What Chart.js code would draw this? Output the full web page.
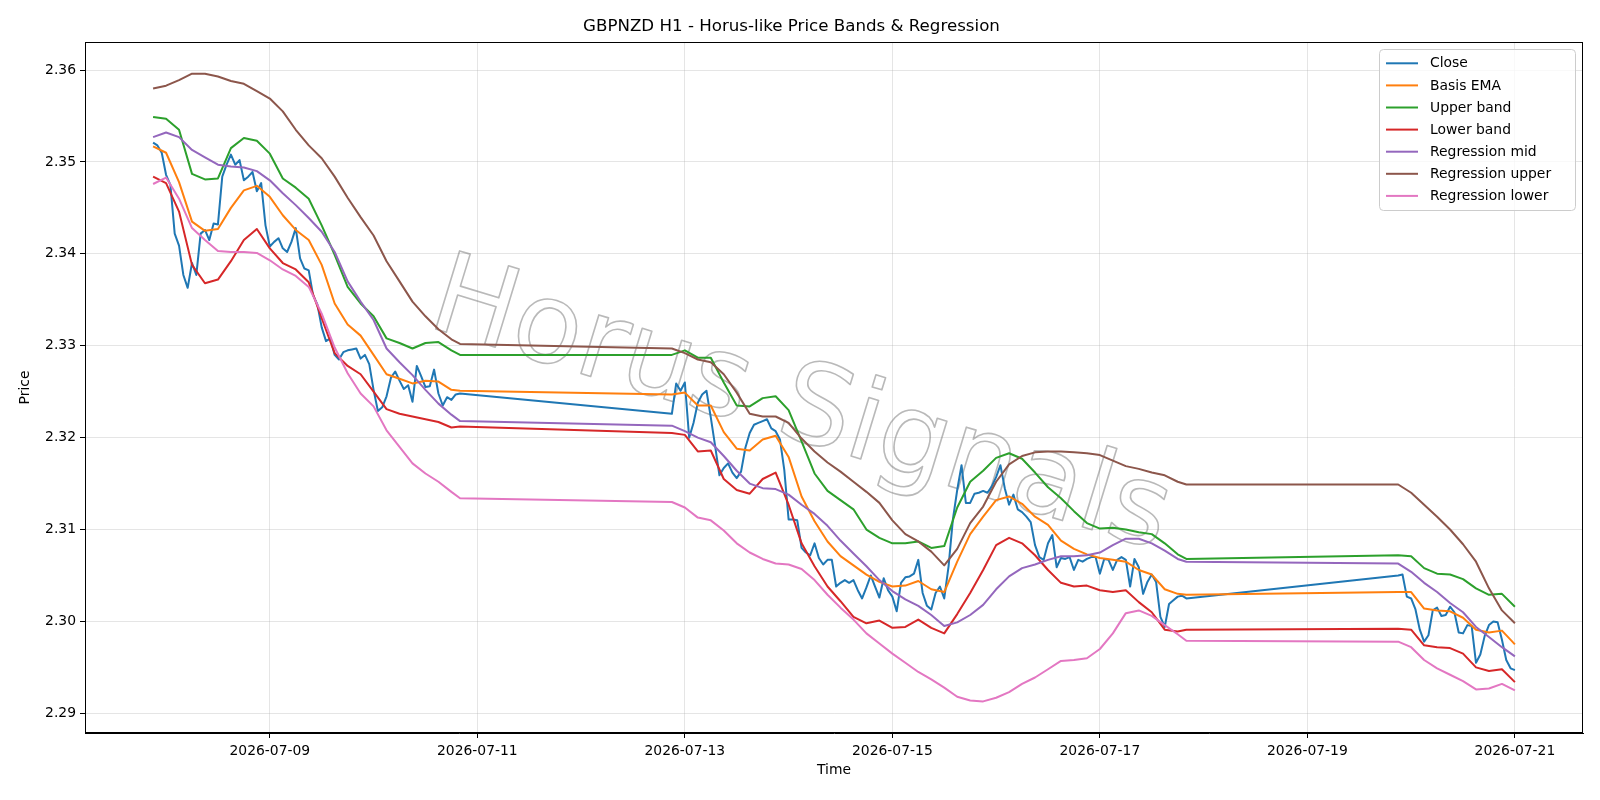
<!DOCTYPE html>
<html><head><meta charset="utf-8">
<script src="https://cdn.jsdelivr.net/npm/chart.js@4/dist/chart.umd.min.js"></script>
<style>html,body{margin:0;padding:0;background:#fff;}canvas{display:block;}</style>
</head><body>
<canvas id="c" width="1600" height="800"></canvas>
<script>
// ---- DATA (hours relative to 2026-07-09 00:00) ----
const seriesNames = ['Close','Basis EMA','Upper band','Lower band','Regression mid','Regression upper','Regression lower'];
const closeSegStartHours = [-27, 93, 261];
const closeSeg1 = [2.3521,2.3518,2.3510,2.3486,2.3475,2.3422,2.3409,2.3377,2.3363,2.3390,2.3377,2.3422,2.3426,2.3415,2.3433,2.3432,2.3484,2.3497,2.3508,2.3497,2.3502,2.3480,2.3484,2.3489,2.3468,2.3477,2.3431,2.3408,2.3413,2.3417,2.3406,2.3402,2.3413,2.3428,2.3395,2.3384,2.3382,2.3355,2.3345,2.3320,2.3305,2.3308,2.3290,2.3285,2.3293,2.3295,2.3296,2.3297,2.3286,2.3290,2.3280,2.3252,2.3229,2.3233,2.3245,2.3265,2.3272,2.3262,2.3253,2.3257,2.3239,2.3278,2.3267,2.3255,2.3256,2.3274,2.3248,2.3235,2.3244,2.3241,2.3247,2.3248];
const closeSeg2 = [2.3226,2.3259,2.3251,2.3260,2.3200,2.3216,2.3238,2.3247,2.3251,2.3222,2.3191,2.3159,2.3167,2.3172,2.3162,2.3156,2.3163,2.3189,2.3205,2.3214,2.3216,2.3218,2.3220,2.3210,2.3207,2.3198,2.3165,2.3111,2.3111,2.3110,2.3080,2.3075,2.3072,2.3085,2.3069,2.3062,2.3067,2.3067,2.3038,2.3042,2.3045,2.3042,2.3045,2.3034,2.3025,2.3037,2.3050,2.3038,2.3026,2.3047,2.3034,2.3027,2.3011,2.3042,2.3048,2.3049,2.3052,2.3067,2.3031,2.3017,2.3013,2.3031,2.3038,2.3025,2.3060,2.3111,2.3143,2.3170,2.3129,2.3129,2.3139,2.3140,2.3142,2.3140,2.3147,2.3157,2.3170,2.3145,2.3127,2.3138,2.3122,2.3119,2.3114,2.3108,2.3083,2.3070,2.3067,2.3085,2.3094,2.3059,2.3069,2.3068,2.3070,2.3056,2.3067,2.3065,2.3068,2.3070,2.3070,2.3052,2.3068,2.3067,2.3056,2.3067,2.3070,2.3067,2.3038,2.3068,2.3059,2.3030,2.3043,2.3051,2.3043,2.3005,2.2994,2.3019,2.3023,2.3027,2.3028,2.3025];
const closeSeg3 = [2.3050,2.3051,2.3027,2.3025,2.3013,2.2991,2.2978,2.2985,2.3012,2.3015,2.3006,2.3007,2.3016,2.3010,2.2988,2.2987,2.2996,2.2995,2.2955,2.2964,2.2984,2.2996,2.3000,2.2999,2.2980,2.2958,2.2949,2.2947];

const bandHours = [-27,-24,-21,-18,-15,-12,-9,-6,-3,0,3,6,9,12,15,18,21,24,27,30,33,36,39,42,44,
  93,96,99,102,105,108,111,114,117,120,123,126,129,132,135,138,141,144,147,150,153,156,159,162,165,168,171,174,177,180,183,186,189,192,195,198,201,204,207,210,212,
  261,264,267,270,273,276,279,282,285,288];
const basisEma = [2.3517,2.3510,2.3478,2.3435,2.3425,2.3427,2.3450,2.3469,2.3474,2.3462,2.3442,2.3426,2.3415,2.3388,2.3346,2.3323,2.3311,2.3290,2.3269,2.3264,2.3259,2.3262,2.3261,2.3252,2.3251,
  2.3247,2.3249,2.3235,2.3235,2.3206,2.3188,2.3186,2.3198,2.3202,2.3179,2.3136,2.3109,2.3087,2.3071,2.3061,2.3051,2.3043,2.3038,2.3039,2.3044,2.3035,2.3032,2.3065,2.3095,2.3114,2.3132,2.3136,2.3128,2.3114,2.3105,2.3088,2.3079,2.3073,2.3069,2.3067,2.3065,2.3056,2.3051,2.3035,2.3030,2.3029,
  2.3032,2.3032,2.3014,2.3012,2.3011,2.3004,2.2991,2.2988,2.2990,2.2975];
const upperBand = [2.3549,2.3547,2.3535,2.3487,2.3481,2.3482,2.3515,2.3526,2.3523,2.3509,2.3482,2.3472,2.3460,2.3431,2.3399,2.3364,2.3346,2.3332,2.3308,2.3303,2.3297,2.3303,2.3304,2.3295,2.3290,
  2.3290,2.3295,2.3287,2.3287,2.3260,2.3235,2.3234,2.3243,2.3245,2.3230,2.3196,2.3161,2.3142,2.3132,2.3122,2.3100,2.3091,2.3085,2.3085,2.3087,2.3080,2.3082,2.3124,2.3152,2.3164,2.3178,2.3183,2.3177,2.3162,2.3146,2.3134,2.3120,2.3107,2.3101,2.3102,2.3100,2.3097,2.3095,2.3085,2.3073,2.3068,
  2.3072,2.3071,2.3058,2.3052,2.3051,2.3046,2.3036,2.3029,2.3030,2.3016];
const lowerBand = [2.3484,2.3477,2.3446,2.3388,2.3368,2.3372,2.3392,2.3415,2.3427,2.3406,2.3390,2.3383,2.3369,2.3330,2.3292,2.3278,2.3269,2.3250,2.3231,2.3226,2.3223,2.3220,2.3217,2.3211,2.3212,
  2.3205,2.3203,2.3185,2.3186,2.3155,2.3143,2.3139,2.3155,2.3162,2.3127,2.3085,2.3060,2.3038,2.3022,2.3005,2.2998,2.3001,2.2993,2.2994,2.3002,2.2993,2.2987,2.3008,2.3031,2.3056,2.3083,2.3091,2.3085,2.3072,2.3056,2.3042,2.3038,2.3039,2.3034,2.3032,2.3034,2.3021,2.3010,2.2991,2.2989,2.2991,
  2.2992,2.2991,2.2974,2.2972,2.2971,2.2965,2.2950,2.2946,2.2948,2.2934];
const regressionMid = [2.3527,2.3532,2.3527,2.3513,2.3505,2.3497,2.3495,2.3494,2.3490,2.3480,2.3466,2.3453,2.3439,2.3424,2.3402,2.3370,2.3348,2.3328,2.3297,2.3282,2.3268,2.3252,2.3237,2.3225,2.3218,
  2.3213,2.3207,2.3200,2.3195,2.3180,2.3164,2.3150,2.3145,2.3144,2.3138,2.3127,2.3117,2.3104,2.3088,2.3074,2.3060,2.3045,2.3033,2.3024,2.3017,2.3007,2.2995,2.2999,2.3007,2.3018,2.3035,2.3049,2.3058,2.3062,2.3067,2.3071,2.3071,2.3072,2.3075,2.3083,2.3090,2.3090,2.3085,2.3077,2.3068,2.3065,
  2.3063,2.3054,2.3042,2.3032,2.3020,2.3010,2.2994,2.2983,2.2972,2.2962];
const regressionUpper = [2.3580,2.3583,2.3589,2.3596,2.3596,2.3593,2.3588,2.3585,2.3577,2.3569,2.3555,2.3535,2.3518,2.3504,2.3484,2.3461,2.3440,2.3420,2.3392,2.3370,2.3348,2.3332,2.3318,2.3307,2.3302,
  2.3297,2.3292,2.3285,2.3282,2.3269,2.3249,2.3226,2.3223,2.3223,2.3216,2.3199,2.3185,2.3173,2.3163,2.3152,2.3141,2.3129,2.3110,2.3095,2.3087,2.3076,2.3061,2.3079,2.3107,2.3125,2.3152,2.3171,2.3180,2.3184,2.3185,2.3185,2.3184,2.3183,2.3181,2.3175,2.3169,2.3166,2.3162,2.3159,2.3152,2.3149,
  2.3149,2.3140,2.3127,2.3114,2.3100,2.3084,2.3065,2.3036,2.3012,2.2998];
const regressionLower = [2.3476,2.3483,2.3460,2.3428,2.3415,2.3403,2.3402,2.3402,2.3401,2.3393,2.3383,2.3376,2.3364,2.3335,2.3298,2.3270,2.3248,2.3234,2.3208,2.3190,2.3172,2.3161,2.3152,2.3141,2.3134,
  2.3130,2.3124,2.3113,2.3110,2.3099,2.3085,2.3075,2.3068,2.3063,2.3062,2.3057,2.3045,2.3029,2.3015,2.3002,2.2987,2.2976,2.2965,2.2955,2.2945,2.2937,2.2928,2.2918,2.2914,2.2913,2.2917,2.2923,2.2932,2.2939,2.2948,2.2957,2.2958,2.2960,2.2970,2.2987,2.3009,2.3012,2.3006,2.2996,2.2986,2.2979,
  2.2978,2.2972,2.2958,2.2949,2.2942,2.2935,2.2926,2.2927,2.2932,2.2925];

const xTickHours = [0, 48, 96, 144, 192, 240, 288];
const xTickLabels = ['2026-07-09','2026-07-11','2026-07-13','2026-07-15','2026-07-17','2026-07-19','2026-07-21'];
const yTickValues = [2.29, 2.30, 2.31, 2.32, 2.33, 2.34, 2.35, 2.36];

// ---- build ----
const colors = ['#1f77b4','#ff7f0e','#2ca02c','#d62728','#9467bd','#8c564b','#e377c2'];
function closePoints() {
  const pts = [];
  [closeSeg1, closeSeg2, closeSeg3].forEach((seg, i) => {
    seg.forEach((v, j) => pts.push({x: closeSegStartHours[i] + j, y: v}));
  });
  return pts;
}
function bandPoints(vals) { return vals.map((v, i) => ({x: bandHours[i], y: v})); }
const seriesData = [closePoints(), bandPoints(basisEma), bandPoints(upperBand), bandPoints(lowerBand),
  bandPoints(regressionMid), bandPoints(regressionUpper), bandPoints(regressionLower)];

const FONT = "'DejaVu Sans', sans-serif";
Chart.defaults.font.family = FONT;
Chart.defaults.color = '#000';

const watermark = {
  id: 'watermark',
  beforeDatasetsDraw(chart) {
    const ctx = chart.ctx;
    ctx.save();
    ctx.translate(800, 410);
    ctx.rotate(17 * Math.PI / 180);
    ctx.font = "112px 'DejaVu Sans', sans-serif";
    ctx.strokeStyle = 'rgba(128,128,128,0.55)';
    ctx.lineWidth = 1.6;
    ctx.lineJoin = 'round';
    ctx.textAlign = 'center';
    ctx.textBaseline = 'middle';
    ctx.strokeText('Horus Signals', 0, 0);
    ctx.restore();
  }
};

const frameAndLegend = {
  id: 'frameAndLegend',
  afterDraw(chart) {
    const ctx = chart.ctx;
    const a = chart.chartArea;
    ctx.save();
    ctx.strokeStyle = '#000';
    ctx.lineWidth = 1;
    ctx.strokeRect(Math.round(a.left) + 0.5, Math.round(a.top) + 0.5, Math.round(a.right - a.left) - 1, Math.round(a.bottom - a.top) - 1);
    // legend
    const L = 1379.5, T = 49.5, R = 1575.5, B = 210.5, r = 4;
    ctx.beginPath();
    ctx.moveTo(L + r, T); ctx.lineTo(R - r, T); ctx.quadraticCurveTo(R, T, R, T + r);
    ctx.lineTo(R, B - r); ctx.quadraticCurveTo(R, B, R - r, B);
    ctx.lineTo(L + r, B); ctx.quadraticCurveTo(L, B, L, B - r);
    ctx.lineTo(L, T + r); ctx.quadraticCurveTo(L, T, L + r, T);
    ctx.closePath();
    ctx.fillStyle = 'rgba(255,255,255,0.8)';
    ctx.fill();
    ctx.strokeStyle = '#cccccc';
    ctx.stroke();
    ctx.font = "13.9px " + FONT;
    ctx.textBaseline = 'middle';
    ctx.textAlign = 'left';
    chart.data.datasets.forEach((ds, i) => {
      const y = 63.3 + i * 22.1;
      ctx.strokeStyle = ds.borderColor;
      ctx.lineWidth = 2;
      ctx.beginPath(); ctx.moveTo(1386, y); ctx.lineTo(1418, y); ctx.stroke();
      ctx.fillStyle = '#000';
      ctx.fillText(ds.label, 1430, y + 0.5);
    });
    ctx.restore();
  }
};

new Chart(document.getElementById('c'), {
  type: 'line',
  data: {
    datasets: seriesNames.map((name, i) => ({
      label: name,
      data: seriesData[i],
      borderColor: colors[i],
      backgroundColor: colors[i],
      borderWidth: 2,
      pointRadius: 0,
      tension: 0,
      fill: false,
      borderJoinStyle: 'round',
      order: 7 - i
    }))
  },
  options: {
    responsive: false,
    animation: false,
    devicePixelRatio: 1,
    layout: {padding: {left: 0, right: 17, top: 0, bottom: 0}},
    plugins: {
      legend: {display: false},
      tooltip: {enabled: false},
      title: {
        display: true,
        text: 'GBPNZD H1 - Horus-like Price Bands & Regression',
        font: {size: 16.67, weight: 'normal', family: FONT},
        color: '#000',
        padding: {top: 17, bottom: 5}
      }
    },
    scales: {
      x: {
        type: 'linear',
        min: -42.75, max: 303.75,
        afterBuildTicks: (axis) => { axis.ticks = xTickHours.map(v => ({value: v})); },
        afterFit: (scale) => { scale.height = 67; },
        ticks: {
          autoSkip: false, maxRotation: 0, padding: 5,
          font: {size: 13.9},
          callback: (v) => { const k = xTickHours.indexOf(v); return k >= 0 ? xTickLabels[k] : ''; }
        },
        grid: {color: 'rgba(176,176,176,0.33)', lineWidth: 1, tickColor: '#000', tickLength: 5, tickWidth: 1},
        border: {display: true, color: '#000', width: 1},
        title: {display: true, text: 'Time', font: {size: 13.9}, padding: {top: 0, bottom: 21.6}}
      },
      y: {
        type: 'linear',
        min: 2.28786, max: 2.36305,
        afterBuildTicks: (axis) => { axis.ticks = yTickValues.map(v => ({value: v})); },
        afterFit: (scale) => { scale.width = 85; },
        ticks: {padding: 4, font: {size: 13.9}, callback: (v) => Number(v).toFixed(2)},
        grid: {color: 'rgba(176,176,176,0.33)', lineWidth: 1, tickColor: '#000', tickLength: 5, tickWidth: 1},
        border: {display: true, color: '#000', width: 1},
        title: {display: true, text: 'Price', font: {size: 13.9}, padding: {top: 17, bottom: 0}}
      }
    }
  },
  plugins: [watermark, frameAndLegend]
});
</script>
</body></html>
